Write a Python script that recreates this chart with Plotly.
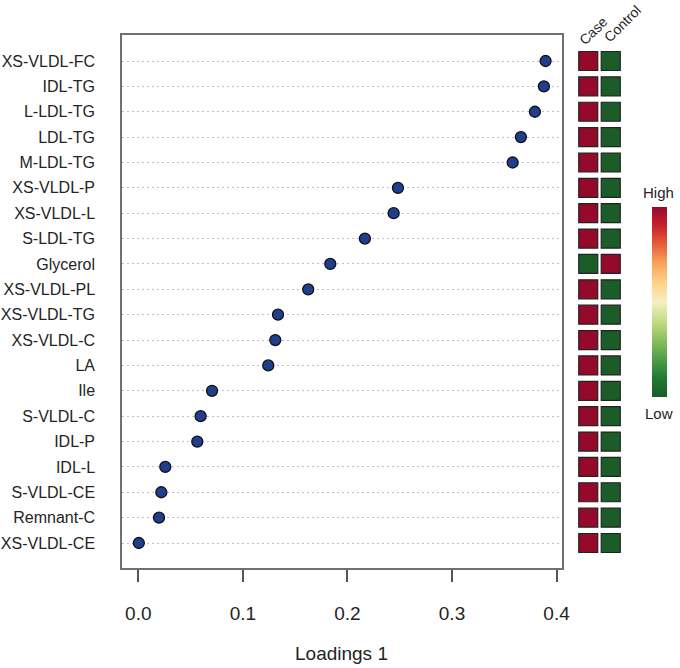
import plotly.graph_objects as go

metabolites = ["XS-VLDL-FC", "IDL-TG", "L-LDL-TG", "LDL-TG", "M-LDL-TG", "XS-VLDL-P",
               "XS-VLDL-L", "S-LDL-TG", "Glycerol", "XS-VLDL-PL", "XS-VLDL-TG", "XS-VLDL-C",
               "LA", "Ile", "S-VLDL-C", "IDL-P", "IDL-L", "S-VLDL-CE", "Remnant-C", "XS-VLDL-CE"]
loadings = [0.3895, 0.3879, 0.3793, 0.3659, 0.358, 0.2483, 0.2442, 0.2167, 0.1836, 0.1625,
            0.1336, 0.131, 0.1243, 0.0705, 0.0596, 0.0564, 0.0258, 0.022, 0.0198, 0.0005]
case_level = [1, 1, 1, 1, 1, 1, 1, 1, 0, 1, 1, 1, 1, 1, 1, 1, 1, 1, 1, 1]
control_level = [0, 0, 0, 0, 0, 0, 0, 0, 1, 0, 0, 0, 0, 0, 0, 0, 0, 0, 0, 0]
groups = ["Case", "Control"]
x_ticks = [0.0, 0.1, 0.2, 0.3, 0.4]
x_ticktext = ["0.0", "0.1", "0.2", "0.3", "0.4"]

W, H = 680, 668
FONT = "Liberation Sans, Arial, sans-serif"
TXT = "#242424"

colorscale = [
    [0.0, "#1c5c28"], [0.1, "#217a35"], [0.2, "#4f9e49"], [0.3, "#8cbf5e"],
    [0.4, "#c4dc86"], [0.5, "#f6efbd"], [0.6, "#fcd38a"], [0.7, "#f9a45c"],
    [0.8, "#e8603b"], [0.9, "#c8232c"], [1.0, "#950a2a"],
]

fig = go.Figure()

fig.add_trace(go.Scatter(
    x=loadings, y=metabolites, mode="markers",
    marker=dict(size=11, color="#1f3f8c", line=dict(color="#111111", width=1.3)),
    xaxis="x", yaxis="y", showlegend=False, hoverinfo="x+y",
))

# heatmap-like squares
for g, vals in zip(groups, [case_level, control_level]):
    fig.add_trace(go.Scatter(
        x=[g] * len(metabolites), y=metabolites, mode="markers",
        marker=dict(symbol="square", size=19, color=vals, cmin=0, cmax=1,
                    colorscale=colorscale, line=dict(color="#222222", width=1.2),
                    showscale=(g == "Case"),
                    colorbar=dict(x=652 / W, xanchor="left", xref="paper",
                                  y=1 - 302 / H, yanchor="middle", yref="paper",
                                  len=190 / H, lenmode="fraction", thickness=15,
                                  thicknessmode="pixels", outlinewidth=0,
                                  xpad=0, ypad=0,
                                  showticklabels=False, ticks="")),
        xaxis="x2", yaxis="y2", showlegend=False, hoverinfo="x+y",
    ))

ydom = [1 - 568 / H, 1 - 35 / H]
yrange = [19.985, -1.025]

fig.update_layout(
    width=W, height=H, margin=dict(l=0, r=0, t=0, b=0, autoexpand=False),
    paper_bgcolor="white", plot_bgcolor="white",
    font=dict(family=FONT, color=TXT),
    xaxis=dict(domain=[122 / W, 562 / W], range=[-0.0156, 0.4052],
               tickvals=x_ticks, ticktext=x_ticktext, ticks="outside", ticklen=12,
               tickcolor="#555555", tickwidth=1.5, ticklabelstandoff=15,
               tickfont=dict(size=19, color=TXT, family=FONT),
               showgrid=False, zeroline=False, showline=True, mirror=True,
               linecolor="#707070", linewidth=1.5),
    yaxis=dict(domain=ydom, type="category", categoryarray=metabolites, range=yrange,
               showgrid=True, gridcolor="#c0c0c0", griddash="2px,3px", gridwidth=1,
               ticks="", ticklabelstandoff=22,
               tickfont=dict(size=16, color=TXT, family=FONT),
               zeroline=False, showline=True, mirror=True,
               linecolor="#707070", linewidth=1.5),
    xaxis2=dict(domain=[577 / W, 622 / W], type="category", categoryarray=groups,
                range=[-0.5, 1.5], showticklabels=False, showgrid=False,
                zeroline=False, showline=False, anchor="y2"),
    yaxis2=dict(domain=ydom, type="category", categoryarray=metabolites, range=yrange,
                showticklabels=False, showgrid=False, zeroline=False, showline=False,
                anchor="x2"),
)

ann = [
    dict(text="Loadings 1", x=341 / W, y=1 - 653 / H, font=dict(size=19)),
    dict(text="High", x=658 / W, y=1 - 192 / H, font=dict(size=15)),
    dict(text="Low", x=659 / W, y=1 - 413 / H, font=dict(size=15)),
    dict(text="Case", x=593 / W, y=1 - 31 / H, font=dict(size=14), textangle=-45),
    dict(text="Control", x=622 / W, y=1 - 24 / H, font=dict(size=14), textangle=-45),
]
for a in ann:
    fig.add_annotation(xref="paper", yref="paper", showarrow=False,
                       xanchor="center", yanchor="middle", **a)

fig.write_html(
    "out.html",
    config={"displayModeBar": False},
    post_script=("document.body.style.margin='0px';"
                 "document.body.style.overflow='hidden';"
                 "document.documentElement.style.overflow='hidden';"),
)
